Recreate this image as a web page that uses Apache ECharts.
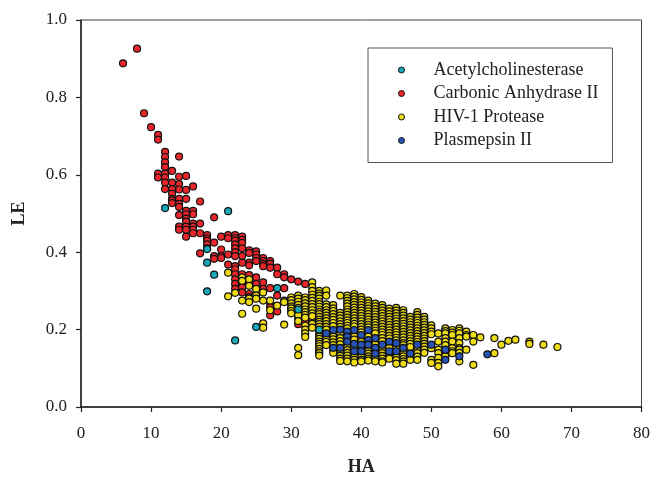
<!DOCTYPE html>
<html>
<head>
<meta charset="utf-8">
<script src="https://cdn.jsdelivr.net/npm/echarts@6/dist/echarts.min.js"></script>
<style>
html,body{margin:0;padding:0;background:#fff;}
#chart{width:653px;height:481px;}
</style>
</head>
<body>
<div id="chart"></div>
<script>
// Series names
const seriesNames = ['Acetylcholinesterase', 'Carbonic Anhydrase II', 'HIV-1 Protease', 'Plasmepsin II'];

// Each entry: [HA, [LE values read at that HA]]
const acetylcholinesterase = [
  [12, [0.514]], [18, [0.408, 0.373, 0.299]], [19, [0.342]], [21, [0.506]],
  [22, [0.172]], [25, [0.207]], [28, [0.307]], [31, [0.252]], [34, [0.2]]
];

const carbonicAnhydrase = [
  [6, [0.888]], [8, [0.926]], [9, [0.759]], [10, [0.723]],
  [11, [0.703, 0.691, 0.603, 0.593]],
  [12, [0.659, 0.646, 0.632, 0.62, 0.603, 0.593, 0.58, 0.563]],
  [13, [0.61, 0.58, 0.563, 0.551, 0.538, 0.534, 0.527]],
  [14, [0.647, 0.595, 0.576, 0.562, 0.538, 0.525, 0.517, 0.496, 0.466, 0.458]],
  [15, [0.597, 0.561, 0.538, 0.507, 0.498, 0.487, 0.479, 0.466, 0.458, 0.44]],
  [16, [0.57, 0.507, 0.498, 0.474, 0.466, 0.458, 0.449]],
  [17, [0.531, 0.474, 0.449, 0.397]],
  [18, [0.444, 0.436, 0.43, 0.42, 0.41]],
  [19, [0.49, 0.425, 0.39, 0.383]],
  [20, [0.44, 0.407, 0.39, 0.385]],
  [21, [0.444, 0.436, 0.394, 0.368]],
  [22, [0.444, 0.436, 0.43, 0.42, 0.41, 0.40, 0.39, 0.364, 0.356, 0.343, 0.33, 0.318, 0.305]],
  [23, [0.44, 0.432, 0.424, 0.41, 0.39, 0.373, 0.343, 0.322, 0.309, 0.296]],
  [24, [0.405, 0.398, 0.373, 0.366, 0.341, 0.322, 0.292, 0.284]],
  [25, [0.402, 0.394, 0.385, 0.377, 0.335, 0.318]],
  [26, [0.385, 0.377, 0.37, 0.364, 0.322, 0.305]],
  [27, [0.377, 0.37, 0.36, 0.307, 0.267, 0.258, 0.237]],
  [28, [0.36, 0.343, 0.288, 0.247]],
  [29, [0.343, 0.335, 0.307]],
  [30, [0.33]],
  [31, [0.324, 0.229, 0.214]],
  [32, [0.318, 0.22]],
  [33, [0.23]],
  [34, [0.212]],
  [37, [0.184]]
];

const hivProtease = [
  [21, [0.347, 0.286]], [22, [0.295]],
  [23, [0.335, 0.326, 0.275, 0.241]],
  [24, [0.33, 0.313, 0.28, 0.271]],
  [25, [0.305, 0.288, 0.28, 0.254]],
  [26, [0.296, 0.275, 0.216, 0.205]],
  [27, [0.275, 0.25]], [28, [0.262]],
  [29, [0.275, 0.271, 0.213]],
  [30, [0.283, 0.276, 0.268, 0.260, 0.255, 0.248, 0.242]],
  [31, [0.288, 0.280, 0.272, 0.264, 0.256, 0.245, 0.238, 0.222, 0.153, 0.134]],
  [32, [0.283, 0.276, 0.268, 0.260, 0.252, 0.245, 0.238, 0.231, 0.210, 0.200, 0.190, 0.181]],
  [33, [0.322, 0.310, 0.300, 0.290, 0.282, 0.274, 0.266, 0.258, 0.250, 0.242, 0.235, 0.215, 0.205]],
  [34, [0.300, 0.293, 0.287, 0.280, 0.272, 0.266, 0.259, 0.252, 0.246, 0.240, 0.233, 0.226, 0.220, 0.214, 0.207, 0.195, 0.188, 0.182, 0.176, 0.169, 0.163, 0.157, 0.150, 0.144, 0.139, 0.133]],
  [35, [0.301, 0.288, 0.265, 0.258, 0.250, 0.243, 0.236, 0.229, 0.222, 0.214, 0.207, 0.200, 0.182, 0.175, 0.168, 0.160]],
  [36, [0.263, 0.255, 0.248, 0.240, 0.232, 0.225, 0.217, 0.209, 0.190, 0.182, 0.175, 0.167, 0.160, 0.146, 0.140]],
  [37, [0.288, 0.243, 0.236, 0.229, 0.221, 0.214, 0.207, 0.192, 0.178, 0.170, 0.162, 0.146, 0.139, 0.132, 0.125, 0.119]],
  [38, [0.288, 0.281, 0.274, 0.267, 0.260, 0.252, 0.245, 0.238, 0.231, 0.224, 0.217, 0.210, 0.203, 0.175, 0.161, 0.154, 0.147, 0.140, 0.133, 0.125, 0.118]],
  [39, [0.292, 0.285, 0.278, 0.271, 0.264, 0.257, 0.250, 0.243, 0.236, 0.229, 0.222, 0.215, 0.208, 0.190, 0.182, 0.174, 0.155, 0.136, 0.129, 0.122, 0.115]],
  [40, [0.284, 0.277, 0.270, 0.263, 0.256, 0.249, 0.242, 0.235, 0.228, 0.221, 0.214, 0.207, 0.200, 0.193, 0.175, 0.168, 0.153, 0.136, 0.129, 0.122, 0.118]],
  [41, [0.275, 0.268, 0.261, 0.254, 0.247, 0.240, 0.233, 0.226, 0.219, 0.212, 0.206, 0.190, 0.182, 0.152, 0.145, 0.138, 0.131, 0.125, 0.120]],
  [42, [0.267, 0.260, 0.253, 0.246, 0.239, 0.232, 0.225, 0.218, 0.211, 0.204, 0.197, 0.190, 0.168, 0.161, 0.146, 0.131, 0.124, 0.118]],
  [43, [0.263, 0.256, 0.249, 0.242, 0.235, 0.228, 0.221, 0.214, 0.207, 0.200, 0.193, 0.186, 0.178, 0.170, 0.153, 0.146, 0.139, 0.132, 0.125, 0.118, 0.115]],
  [44, [0.254, 0.247, 0.240, 0.233, 0.226, 0.219, 0.212, 0.205, 0.198, 0.191, 0.184, 0.177, 0.160, 0.153, 0.137, 0.131, 0.125]],
  [45, [0.256, 0.249, 0.242, 0.235, 0.228, 0.221, 0.214, 0.207, 0.200, 0.193, 0.186, 0.179, 0.172, 0.155, 0.135, 0.128, 0.121, 0.112]],
  [46, [0.250, 0.243, 0.236, 0.229, 0.222, 0.215, 0.208, 0.201, 0.194, 0.187, 0.180, 0.172, 0.165, 0.160, 0.145, 0.138, 0.131, 0.124, 0.118, 0.112]],
  [47, [0.233, 0.226, 0.219, 0.212, 0.205, 0.198, 0.191, 0.184, 0.177, 0.170, 0.163, 0.155, 0.130, 0.122]],
  [48, [0.245, 0.238, 0.231, 0.224, 0.217, 0.210, 0.203, 0.196, 0.189, 0.182, 0.175, 0.168, 0.153, 0.146, 0.139, 0.130, 0.122]],
  [49, [0.233, 0.226, 0.219, 0.212, 0.205, 0.198, 0.191, 0.184, 0.177, 0.170, 0.163, 0.156, 0.148, 0.140]],
  [50, [0.211, 0.203, 0.195, 0.188, 0.152, 0.122, 0.114]],
  [51, [0.190, 0.169, 0.148, 0.139, 0.127, 0.114, 0.105]],
  [52, [0.203, 0.196, 0.190, 0.178, 0.169, 0.160, 0.135, 0.131]],
  [53, [0.199, 0.192, 0.186, 0.169, 0.152, 0.144, 0.139]],
  [54, [0.203, 0.197, 0.190, 0.178, 0.165, 0.152, 0.148, 0.140, 0.118]],
  [55, [0.195, 0.186, 0.182, 0.148]],
  [56, [0.186, 0.169, 0.109]],
  [57, [0.180]], [59, [0.178, 0.139]], [60, [0.161]], [61, [0.171]],
  [62, [0.174]], [64, [0.169, 0.163]], [66, [0.161]], [68, [0.155]]
];

const plasmepsin = [
  [35, [0.19]], [36, [0.199, 0.153]], [37, [0.2, 0.153]],
  [38, [0.195, 0.182, 0.169]], [39, [0.199, 0.163, 0.144]],
  [40, [0.186, 0.161, 0.144]], [41, [0.199, 0.173, 0.161]],
  [42, [0.178, 0.153, 0.138]], [43, [0.161]], [44, [0.169, 0.144]],
  [45, [0.165, 0.144]], [46, [0.153]], [47, [0.138]], [48, [0.161]],
  [50, [0.161]], [52, [0.148, 0.122]], [54, [0.131]], [58, [0.136]]
];

const colors = {
  'Acetylcholinesterase': '#17a7b8',
  'Carbonic Anhydrase II': '#e8262b',
  'HIV-1 Protease': '#eedc16',
  'Plasmepsin II': '#2852b4'
};

function toPoints(groups) {
  const out = [];
  groups.forEach(([ha, les]) => les.forEach(le => out.push([ha, le])));
  return out;
}

const font = '"Liberation Serif", "Times New Roman", serif';

function mkSeries(name, groups, z) {
  return {
    name: name,
    type: 'scatter',
    data: toPoints(groups),
    symbol: 'circle',
    symbolSize: 7,
    z: z,
    itemStyle: { color: colors[name], borderColor: '#111', borderWidth: 1.2, opacity: 1 },
    emphasis: { disabled: true }
  };
}

const chart = echarts.init(document.getElementById('chart'), null, { renderer: 'canvas' });
chart.setOption({
  animation: false,
  backgroundColor: '#ffffff',
  grid: { left: 81, right: 10, top: 20, bottom: 68, show: true, borderColor: '#444', borderWidth: 1, backgroundColor: 'transparent' },
  legend: {
    data: seriesNames,
    orient: 'vertical',
    left: 368,
    top: 48,
    padding: [13, 14, 13, 30],
    itemGap: 5.5,
    itemWidth: 6,
    itemHeight: 6,
    icon: 'circle',
    borderColor: '#555',
    borderWidth: 1,
    backgroundColor: '#fff',
    itemStyle: { borderColor: '#111', borderWidth: 1 },
    textStyle: { fontFamily: font, fontSize: 18, color: '#222', lineHeight: 18, padding: [0, 0, 0, 24] }
  },
  xAxis: {
    type: 'value', min: 0, max: 80, interval: 10,
    name: 'HA', nameLocation: 'middle', nameGap: 51,
    nameTextStyle: { fontFamily: font, fontSize: 18, fontWeight: 'bold', color: '#222' },
    axisLine: { lineStyle: { color: '#222', width: 1.5 } },
    axisTick: { show: true, inside: false, length: 5, lineStyle: { color: '#222', width: 1.2 } },
    axisLabel: { fontFamily: font, fontSize: 17, color: '#222', margin: 18 },
    splitLine: { show: false }
  },
  yAxis: {
    type: 'value', min: 0, max: 1, interval: 0.2,
    name: 'LE', nameLocation: 'middle', nameGap: 53,
    nameTextStyle: { fontFamily: font, fontSize: 18, fontWeight: 'bold', color: '#222' },
    axisLine: { lineStyle: { color: '#222', width: 1.5 } },
    axisTick: { show: true, inside: false, length: 5, lineStyle: { color: '#222', width: 1.2 } },
    axisLabel: { fontFamily: font, fontSize: 17, color: '#222', margin: 14, formatter: v => v.toFixed(1) },
    splitLine: { show: false }
  },
  series: [
    mkSeries('Carbonic Anhydrase II', carbonicAnhydrase, 2),
    mkSeries('HIV-1 Protease', hivProtease, 3),
    mkSeries('Plasmepsin II', plasmepsin, 4),
    mkSeries('Acetylcholinesterase', acetylcholinesterase, 5)
  ]
});
</script>
</body>
</html>
